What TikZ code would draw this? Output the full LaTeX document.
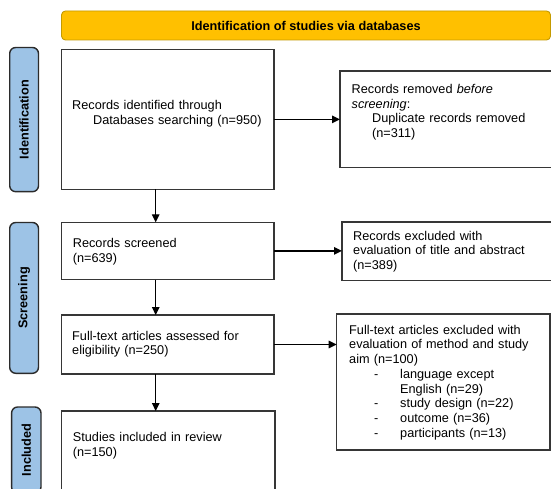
\documentclass[tikz,border=0pt]{standalone}
\usepackage{fontspec}
\setmainfont{Liberation Sans}
\usetikzlibrary{arrows.meta,calc}
\definecolor{bannerfill}{HTML}{FFC000}
\definecolor{bannerdraw}{HTML}{C49A00}
\definecolor{pillfill}{HTML}{9DC3E6}
\definecolor{pilldraw}{HTML}{2B2B2B}
\definecolor{boxdraw}{HTML}{363636}
\begin{document}
\begin{tikzpicture}[x=1pt,y=-1pt,
  basefont/.style={font=\fontsize{12.7}{14.7}\selectfont},
  banner/.style={draw=bannerdraw, fill=bannerfill, line width=0.9pt, rounded corners=4pt, inner sep=0, outer sep=0, font=\fontsize{12.7}{14.7}\selectfont\bfseries},
  pill/.style={draw=pilldraw, fill=pillfill, line width=1.4pt, rounded corners=6pt, inner sep=0, outer sep=0},
  pilllabel/.style={rotate=90, inner sep=0, font=\fontsize{12.7}{14.7}\selectfont\bfseries},
  box/.style={draw=boxdraw, fill=white, line width=1.5pt, inner sep=0, outer sep=0},
  txt/.style={anchor=base west, inner sep=0, align=left, text width=205pt, basefont},
  arr/.style={draw=black, line width=1.3pt, -{Triangle[length=8pt,width=7.5pt]}}
]
\useasboundingbox (0,0) rectangle (551,489);

% banner
\node[banner, minimum width=489pt, minimum height=29pt] (banner) at (306,25.5) {Identification of studies via databases};

% phase pills
\node[pill, minimum width=28.8pt, minimum height=144.2pt] (pillI) at (24.1,119.6) {};
\node[pill, minimum width=28.8pt, minimum height=150.8pt] (pillS) at (24.1,297.9) {};
\node[pill, minimum width=29.4pt, minimum height=86pt] (pillN) at (26.3,450) {};
\node[pilllabel] (lI) at (pillI.center) {Identification};
\node[pilllabel] (lS) at (pillS.center) {Screening};
\node[pilllabel] (lN) at (pillN.center) {Included};

% boxes
\node[box, minimum width=212.5pt, minimum height=140.2pt] (box1) at (167.75,119.4) {};
\node[box, minimum width=216pt, minimum height=96.5pt] (removed) at (448,119.25) {};
\node[box, minimum width=212.5pt, minimum height=57.2pt] (screened) at (167.75,250.9) {};
\node[box, minimum width=214pt, minimum height=58.5pt] (excluded) at (449,251.25) {};
\node[box, minimum width=212.5pt, minimum height=59pt] (fulltext) at (167.75,344.5) {};
\node[box, minimum width=213.3pt, minimum height=136pt] (ftx) at (443.35,382) {};
\node[box, minimum width=213.5pt, minimum height=89pt] (studies) at (168.25,455.5) {};

% texts
\node[txt] (t1) at (72,109.5) {Records identified through\\\hspace*{21pt}Databases searching (n=950)};
\node[txt] (tr) at (351.5,93.5) {Records removed \textit{before}\\\textit{screening}:\\\hspace*{20.5pt}Duplicate records removed\\\hspace*{20.5pt}(n=311)};
\node[txt] (ts) at (72.7,247.8) {Records screened\\(n=639)};
\node[txt] (te) at (353,240.2) {Records excluded with\\evaluation of title and abstract\\(n=389)};
\node[txt] (tf) at (72,340.2) {Full-text articles assessed for\\eligibility (n=250)};
\node[txt] (tx) at (349,334.2) {Full-text articles excluded with\\evaluation of method and study\\aim (n=100)\\
\hspace*{25pt}\makebox[26pt][l]{-}language except\\
\hspace*{51pt}English (n=29)\\
\hspace*{25pt}\makebox[26pt][l]{-}study design (n=22)\\
\hspace*{25pt}\makebox[26pt][l]{-}outcome (n=36)\\
\hspace*{25pt}\makebox[26pt][l]{-}participants (n=13)};
\node[txt] (tst) at (72.7,441.5) {Studies included in review\\(n=150)};

% connectors
\coordinate (ax) at (155.7,0);
\draw[arr] (box1.south -| ax) -- (screened.north -| ax);
\draw[arr] (screened.south -| ax) -- (fulltext.north -| ax);
\draw[arr] (fulltext.south -| ax) -- (studies.north -| ax);
\draw[arr] (box1.east) -- (box1.east -| removed.west);
\draw[arr] (screened.east) -- (screened.east -| excluded.west);
\draw[arr] (fulltext.east) -- (fulltext.east -| ftx.west);
\end{tikzpicture}
\end{document}
